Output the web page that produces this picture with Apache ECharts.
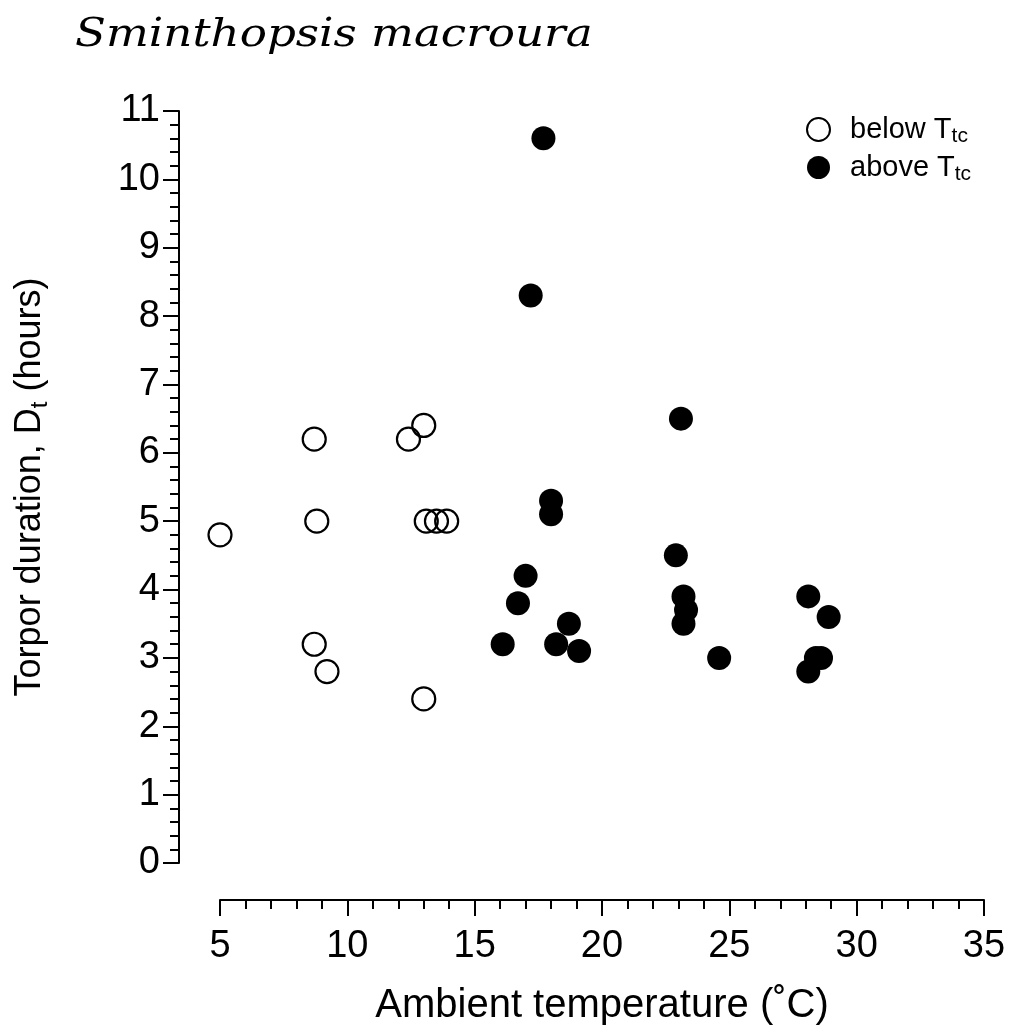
<!DOCTYPE html>
<html>
<head>
<meta charset="utf-8">
<script src="https://cdn.jsdelivr.net/npm/echarts@6/dist/echarts.min.js"></script>
<style>
  html, body { margin: 0; padding: 0; background: #fff; }
  #chart { width: 1009px; height: 1034px; }
</style>
</head>
<body>
<div id="chart"></div>
<script>
// Ambient temperature (°C) vs torpor duration (h), split by thermal threshold
const belowTemp = [5.0, 8.7, 8.8, 8.7, 9.2, 12.4, 13.0, 13.1, 13.5, 13.9, 13.0];
const belowDur  = [4.8, 6.2, 5.0, 3.2, 2.8, 6.2, 6.4, 5.0, 5.0, 5.0, 2.4];

const aboveTemp = [17.7, 17.2, 18.0, 18.0, 17.0, 16.7, 16.1, 18.7, 18.2, 19.1,
                   23.1, 22.9, 23.2, 23.3, 23.2, 24.6, 28.1, 28.9, 28.4, 28.6, 28.1];
const aboveDur  = [10.6, 8.3, 5.3, 5.1, 4.2, 3.8, 3.2, 3.5, 3.2, 3.1,
                   6.5, 4.5, 3.9, 3.7, 3.5, 3.0, 3.9, 3.6, 3.0, 3.0, 2.8];

const xTicks = [5, 10, 15, 20, 25, 30, 35];
const yTicks = [0, 1, 2, 3, 4, 5, 6, 7, 8, 9, 10, 11];

const pair = (xs, ys) => xs.map((x, i) => [x, ys[i]]);

const FONT = '"Liberation Sans", Arial, Helvetica, sans-serif';
const chart = echarts.init(document.getElementById('chart'));

chart.setOption({
  backgroundColor: '#fff',
  animation: false,
  grid: { left: 220, right: 25, top: 111, bottom: 171, containLabel: false, outerBoundsMode: 'none' },
  graphic: [{
    type: 'text',
    x: 75, y: 16,
    scaleX: 1.13,
    style: {
      text: 'Sminthopsis macroura',
      font: 'italic 40px "DejaVu Serif", "Liberation Serif", serif',
      fill: '#000'
    }
  }],
  legend: {
    left: 801, top: 110,
    orient: 'vertical',
    itemWidth: 23, itemHeight: 23,
    itemGap: 6,
    icon: 'circle',
    formatter: n => '{m|' + n + '}{s|tc}',
    textStyle: {
      color: '#000',
      fontFamily: FONT,
      padding: [0, 0, 0, 15],
      rich: {
        m: { fontSize: 29, fontFamily: FONT, color: '#000' },
        s: { fontSize: 21, fontFamily: FONT, color: '#000', padding: [14, 0, 0, 0] }
      }
    },
    data: ['below T', 'above T']
  },
  xAxis: {
    type: 'value',
    min: 5, max: 35, interval: 5,
    offset: 37,
    axisLine: { show: true, onZero: false, lineStyle: { color: '#000', width: 2 } },
    axisTick: { show: true, length: 16, lineStyle: { color: '#000', width: 2 } },
    minorTick: { show: true, splitNumber: 5, length: 9, lineStyle: { color: '#000', width: 2 } },
    splitLine: { show: false },
    axisLabel: {
      color: '#000', fontSize: 38, fontFamily: FONT, margin: 28,
      formatter: v => (xTicks.includes(v) ? String(v) : '')
    },
    name: 'Ambient temperature (˚C)',
    nameLocation: 'middle',
    nameGap: 86,
    nameTextStyle: { color: '#000', fontSize: 40, fontFamily: FONT }
  },
  yAxis: {
    type: 'value',
    min: 0, max: 11, interval: 1,
    offset: 41,
    axisLine: { show: true, onZero: false, lineStyle: { color: '#000', width: 2 } },
    axisTick: { show: true, length: 16, lineStyle: { color: '#000', width: 2 } },
    minorTick: { show: true, splitNumber: 5, length: 9, lineStyle: { color: '#000', width: 2 } },
    splitLine: { show: false },
    axisLabel: {
      color: '#000', fontSize: 38, fontFamily: FONT, margin: 19,
      formatter: v => (yTicks.includes(v) ? String(v) : '')
    },
    name: 'Torpor duration, D{s|t} (hours)',
    nameLocation: 'middle',
    nameRotate: 90,
    nameGap: 127,
    nameTextStyle: {
      color: '#000', fontSize: 36, fontFamily: FONT,
      rich: { s: { fontSize: 24, fontFamily: FONT, color: '#000', padding: [20, 0, 0, 0] } }
    }
  },
  series: [
    {
      name: 'below T',
      type: 'scatter',
      symbol: 'circle',
      symbolSize: 23,
      itemStyle: { color: 'rgba(255,255,255,0)', borderColor: '#000', borderWidth: 2.2, opacity: 1 },
      data: pair(belowTemp, belowDur)
    },
    {
      name: 'above T',
      type: 'scatter',
      symbol: 'circle',
      symbolSize: 24,
      itemStyle: { color: '#000', opacity: 1 },
      data: pair(aboveTemp, aboveDur)
    }
  ]
});
</script>
</body>
</html>
